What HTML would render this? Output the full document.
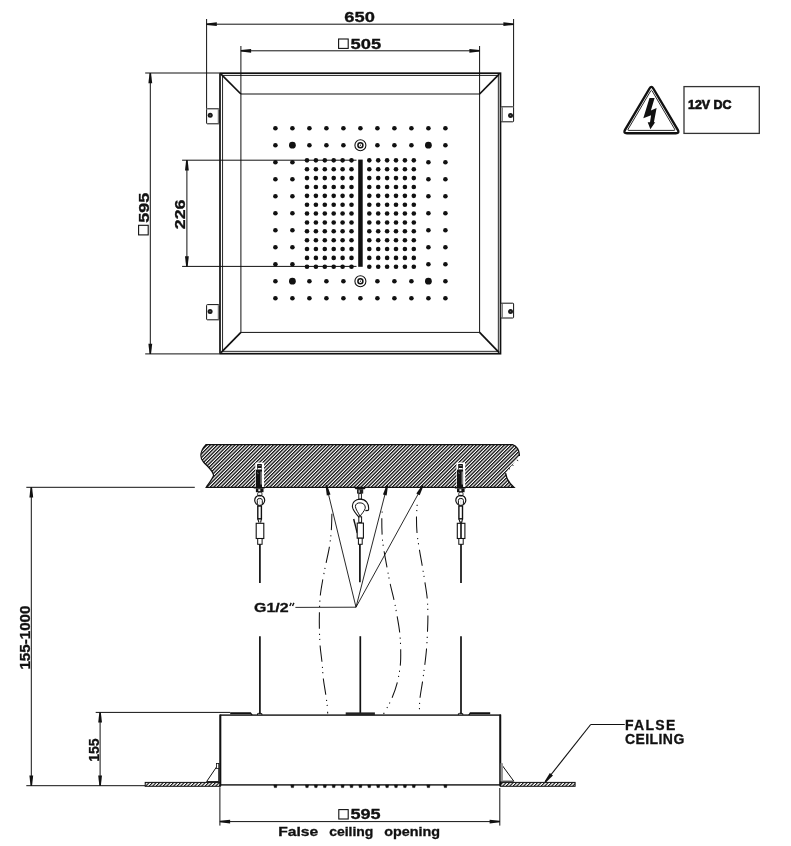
<!DOCTYPE html>
<html><head><meta charset="utf-8"><title>Drawing</title>
<style>
html,body{margin:0;padding:0;background:#fff;}
svg{display:block;will-change:transform;}
text{font-family:"Liberation Sans",sans-serif;fill:#111;stroke:#111;stroke-width:0.3px;}
</style></head>
<body>
<svg width="791" height="846" viewBox="0 0 791 846">
<defs>
<pattern id="hatch" patternUnits="userSpaceOnUse" width="2.475" height="10" patternTransform="rotate(45)">
<rect x="0" y="0" width="1.25" height="10" fill="#000"/></pattern>
<pattern id="hatch2" patternUnits="userSpaceOnUse" width="2.475" height="10" patternTransform="rotate(45)">
<rect x="0" y="0" width="1.05" height="10" fill="#000"/></pattern>
</defs>
<rect x="0" y="0" width="791" height="846" fill="#fff"/>
<line x1="206.6" y1="19" x2="206.6" y2="108.8" stroke="#111" stroke-width="1" />
<line x1="513.6" y1="19" x2="513.6" y2="106.8" stroke="#111" stroke-width="1" />
<line x1="206.6" y1="24.2" x2="513.6" y2="24.2" stroke="#111" stroke-width="1" />
<polygon points="206.6,23.45 216.8,22.3 216.8,26.1 206.6,24.95" fill="#111" stroke="none" stroke-width="1" />
<polygon points="513.6,24.95 503.4,26.1 503.4,22.3 513.6,23.45" fill="#111" stroke="none" stroke-width="1" />
<text x="344.3" y="21.9" font-size="14" font-weight="bold" text-anchor="start" textLength="30.5" lengthAdjust="spacingAndGlyphs" >650</text>
<line x1="240.9" y1="46" x2="240.9" y2="94" stroke="#111" stroke-width="1" />
<line x1="479.6" y1="46" x2="479.6" y2="94" stroke="#111" stroke-width="1" />
<line x1="240.9" y1="50.8" x2="479.6" y2="50.8" stroke="#111" stroke-width="1" />
<polygon points="240.9,50.05 251.1,48.9 251.1,52.7 240.9,51.55" fill="#111" stroke="none" stroke-width="1" />
<polygon points="479.6,51.55 469.4,52.7 469.4,48.9 479.6,50.05" fill="#111" stroke="none" stroke-width="1" />
<rect x="338.6" y="39" width="9.6" height="9.4" rx="0" fill="none" stroke="#111" stroke-width="1.1" />
<text x="350.6" y="48.7" font-size="14" font-weight="bold" text-anchor="start" textLength="30.6" lengthAdjust="spacingAndGlyphs" >505</text>
<line x1="145.2" y1="73" x2="219" y2="73" stroke="#111" stroke-width="1" />
<line x1="145.2" y1="353.9" x2="219" y2="353.9" stroke="#111" stroke-width="1" />
<line x1="150.3" y1="73" x2="150.3" y2="353.9" stroke="#111" stroke-width="1" />
<polygon points="151.05,73 152.2,83.2 148.4,83.2 149.55,73" fill="#111" stroke="none" stroke-width="1" />
<polygon points="149.55,353.9 148.4,343.7 152.2,343.7 151.05,353.9" fill="#111" stroke="none" stroke-width="1" />
<rect x="138.6" y="225.3" width="9.6" height="9.6" rx="0" fill="none" stroke="#111" stroke-width="1.1" />
<text transform="translate(148.6,222.8) rotate(-90)" font-size="14" font-weight="bold" text-anchor="start" textLength="30" lengthAdjust="spacingAndGlyphs" >595</text>
<line x1="182.1" y1="160.2" x2="356.5" y2="160.2" stroke="#111" stroke-width="1" />
<line x1="182.1" y1="266.4" x2="356.5" y2="266.4" stroke="#111" stroke-width="1" />
<line x1="186.9" y1="160.2" x2="186.9" y2="266.4" stroke="#111" stroke-width="1" />
<polygon points="187.65,160.2 188.8,170.4 185,170.4 186.15,160.2" fill="#111" stroke="none" stroke-width="1" />
<polygon points="186.15,266.4 185,256.2 188.8,256.2 187.65,266.4" fill="#111" stroke="none" stroke-width="1" />
<text transform="translate(185.4,229.2) rotate(-90)" font-size="14" font-weight="bold" text-anchor="start" textLength="29.6" lengthAdjust="spacingAndGlyphs" >226</text>
<rect x="220" y="73.2" width="280.5" height="280.5" rx="0" fill="none" stroke="#111" stroke-width="1.7" />
<rect x="222.6" y="75.4" width="275.7" height="275.9" rx="0" fill="none" stroke="#111" stroke-width="0.9" />
<rect x="240.9" y="94" width="238.7" height="238.4" rx="0" fill="none" stroke="#111" stroke-width="1" />
<line x1="221" y1="74.2" x2="240.9" y2="94" stroke="#111" stroke-width="1.7" />
<line x1="499.2" y1="74.2" x2="479.6" y2="94" stroke="#111" stroke-width="1.7" />
<line x1="221" y1="352.7" x2="240.9" y2="332.4" stroke="#111" stroke-width="1.7" />
<line x1="499.2" y1="352.7" x2="479.6" y2="332.4" stroke="#111" stroke-width="1.7" />
<rect x="206.6" y="108.8" width="12.8" height="15" rx="0.8" fill="#fff" stroke="#111" stroke-width="1" />
<line x1="218.3" y1="109.3" x2="218.3" y2="123.3" stroke="#555" stroke-width="0.9" />
<circle cx="210.2" cy="115.3" r="2.5" fill="#1a1a1a" stroke="none" stroke-width="1"/>
<circle cx="210.2" cy="115.3" r="0.7" fill="#666" stroke="none" stroke-width="1"/>
<rect x="500.8" y="106.8" width="12.8" height="15" rx="0.8" fill="#fff" stroke="#111" stroke-width="1" />
<line x1="502.3" y1="107.3" x2="502.3" y2="121.3" stroke="#555" stroke-width="0.9" />
<circle cx="510.5" cy="115.4" r="2.5" fill="#1a1a1a" stroke="none" stroke-width="1"/>
<circle cx="510.5" cy="115.4" r="0.7" fill="#666" stroke="none" stroke-width="1"/>
<rect x="206.6" y="304.6" width="12.8" height="15.2" rx="0.8" fill="#fff" stroke="#111" stroke-width="1" />
<line x1="218.3" y1="305.1" x2="218.3" y2="319.3" stroke="#555" stroke-width="0.9" />
<circle cx="210.1" cy="311.4" r="2.5" fill="#1a1a1a" stroke="none" stroke-width="1"/>
<circle cx="210.1" cy="311.4" r="0.7" fill="#666" stroke="none" stroke-width="1"/>
<rect x="500.8" y="303.2" width="12.8" height="14.8" rx="0.8" fill="#fff" stroke="#111" stroke-width="1" />
<line x1="502.3" y1="303.7" x2="502.3" y2="317.5" stroke="#555" stroke-width="0.9" />
<circle cx="510.5" cy="311.6" r="2.5" fill="#1a1a1a" stroke="none" stroke-width="1"/>
<circle cx="510.5" cy="311.6" r="0.7" fill="#666" stroke="none" stroke-width="1"/>
<circle cx="275.4" cy="128.2" r="2.3" fill="#111" stroke="none" stroke-width="1"/>
<circle cx="292.4" cy="128.2" r="2.3" fill="#111" stroke="none" stroke-width="1"/>
<circle cx="309.4" cy="128.2" r="2.3" fill="#111" stroke="none" stroke-width="1"/>
<circle cx="326.4" cy="128.2" r="2.3" fill="#111" stroke="none" stroke-width="1"/>
<circle cx="343.4" cy="128.2" r="2.3" fill="#111" stroke="none" stroke-width="1"/>
<circle cx="360.4" cy="128.2" r="2.3" fill="#111" stroke="none" stroke-width="1"/>
<circle cx="377.4" cy="128.2" r="2.3" fill="#111" stroke="none" stroke-width="1"/>
<circle cx="394.4" cy="128.2" r="2.3" fill="#111" stroke="none" stroke-width="1"/>
<circle cx="411.4" cy="128.2" r="2.3" fill="#111" stroke="none" stroke-width="1"/>
<circle cx="428.4" cy="128.2" r="2.3" fill="#111" stroke="none" stroke-width="1"/>
<circle cx="445.4" cy="128.2" r="2.3" fill="#111" stroke="none" stroke-width="1"/>
<circle cx="275.4" cy="145.2" r="2.3" fill="#111" stroke="none" stroke-width="1"/>
<circle cx="292.4" cy="145.2" r="3.4" fill="#111" stroke="none" stroke-width="1"/>
<circle cx="309.4" cy="145.2" r="2.3" fill="#111" stroke="none" stroke-width="1"/>
<circle cx="326.4" cy="145.2" r="2.3" fill="#111" stroke="none" stroke-width="1"/>
<circle cx="343.4" cy="145.2" r="2.3" fill="#111" stroke="none" stroke-width="1"/>
<circle cx="360.4" cy="145.2" r="5.5" fill="none" stroke="#111" stroke-width="1.1"/>
<circle cx="360.4" cy="145.2" r="2.5" fill="none" stroke="#111" stroke-width="1.5"/>
<circle cx="360.4" cy="145.2" r="0.6" fill="#111" stroke="none" stroke-width="1"/>
<circle cx="377.4" cy="145.2" r="2.3" fill="#111" stroke="none" stroke-width="1"/>
<circle cx="394.4" cy="145.2" r="2.3" fill="#111" stroke="none" stroke-width="1"/>
<circle cx="411.4" cy="145.2" r="2.3" fill="#111" stroke="none" stroke-width="1"/>
<circle cx="428.4" cy="145.2" r="3.4" fill="#111" stroke="none" stroke-width="1"/>
<circle cx="445.4" cy="145.2" r="2.3" fill="#111" stroke="none" stroke-width="1"/>
<circle cx="275.4" cy="162.2" r="2.3" fill="#111" stroke="none" stroke-width="1"/>
<circle cx="292.4" cy="162.2" r="2.3" fill="#111" stroke="none" stroke-width="1"/>
<circle cx="428.4" cy="162.2" r="2.3" fill="#111" stroke="none" stroke-width="1"/>
<circle cx="445.4" cy="162.2" r="2.3" fill="#111" stroke="none" stroke-width="1"/>
<circle cx="275.4" cy="179.2" r="2.3" fill="#111" stroke="none" stroke-width="1"/>
<circle cx="292.4" cy="179.2" r="2.3" fill="#111" stroke="none" stroke-width="1"/>
<circle cx="428.4" cy="179.2" r="2.3" fill="#111" stroke="none" stroke-width="1"/>
<circle cx="445.4" cy="179.2" r="2.3" fill="#111" stroke="none" stroke-width="1"/>
<circle cx="275.4" cy="196.2" r="2.3" fill="#111" stroke="none" stroke-width="1"/>
<circle cx="292.4" cy="196.2" r="2.3" fill="#111" stroke="none" stroke-width="1"/>
<circle cx="428.4" cy="196.2" r="2.3" fill="#111" stroke="none" stroke-width="1"/>
<circle cx="445.4" cy="196.2" r="2.3" fill="#111" stroke="none" stroke-width="1"/>
<circle cx="275.4" cy="213.2" r="2.3" fill="#111" stroke="none" stroke-width="1"/>
<circle cx="292.4" cy="213.2" r="2.3" fill="#111" stroke="none" stroke-width="1"/>
<circle cx="428.4" cy="213.2" r="2.3" fill="#111" stroke="none" stroke-width="1"/>
<circle cx="445.4" cy="213.2" r="2.3" fill="#111" stroke="none" stroke-width="1"/>
<circle cx="275.4" cy="230.2" r="2.3" fill="#111" stroke="none" stroke-width="1"/>
<circle cx="292.4" cy="230.2" r="2.3" fill="#111" stroke="none" stroke-width="1"/>
<circle cx="428.4" cy="230.2" r="2.3" fill="#111" stroke="none" stroke-width="1"/>
<circle cx="445.4" cy="230.2" r="2.3" fill="#111" stroke="none" stroke-width="1"/>
<circle cx="275.4" cy="247.2" r="2.3" fill="#111" stroke="none" stroke-width="1"/>
<circle cx="292.4" cy="247.2" r="2.3" fill="#111" stroke="none" stroke-width="1"/>
<circle cx="428.4" cy="247.2" r="2.3" fill="#111" stroke="none" stroke-width="1"/>
<circle cx="445.4" cy="247.2" r="2.3" fill="#111" stroke="none" stroke-width="1"/>
<circle cx="275.4" cy="264.2" r="2.3" fill="#111" stroke="none" stroke-width="1"/>
<circle cx="292.4" cy="264.2" r="2.3" fill="#111" stroke="none" stroke-width="1"/>
<circle cx="428.4" cy="264.2" r="2.3" fill="#111" stroke="none" stroke-width="1"/>
<circle cx="445.4" cy="264.2" r="2.3" fill="#111" stroke="none" stroke-width="1"/>
<circle cx="275.4" cy="281.2" r="2.3" fill="#111" stroke="none" stroke-width="1"/>
<circle cx="292.4" cy="281.2" r="3.4" fill="#111" stroke="none" stroke-width="1"/>
<circle cx="309.4" cy="281.2" r="2.3" fill="#111" stroke="none" stroke-width="1"/>
<circle cx="326.4" cy="281.2" r="2.3" fill="#111" stroke="none" stroke-width="1"/>
<circle cx="343.4" cy="281.2" r="2.3" fill="#111" stroke="none" stroke-width="1"/>
<circle cx="360.4" cy="281.2" r="5.5" fill="none" stroke="#111" stroke-width="1.1"/>
<circle cx="360.4" cy="281.2" r="2.5" fill="none" stroke="#111" stroke-width="1.5"/>
<circle cx="360.4" cy="281.2" r="0.6" fill="#111" stroke="none" stroke-width="1"/>
<circle cx="377.4" cy="281.2" r="2.3" fill="#111" stroke="none" stroke-width="1"/>
<circle cx="394.4" cy="281.2" r="2.3" fill="#111" stroke="none" stroke-width="1"/>
<circle cx="411.4" cy="281.2" r="2.3" fill="#111" stroke="none" stroke-width="1"/>
<circle cx="428.4" cy="281.2" r="3.4" fill="#111" stroke="none" stroke-width="1"/>
<circle cx="445.4" cy="281.2" r="2.3" fill="#111" stroke="none" stroke-width="1"/>
<circle cx="275.4" cy="298.2" r="2.3" fill="#111" stroke="none" stroke-width="1"/>
<circle cx="292.4" cy="298.2" r="2.3" fill="#111" stroke="none" stroke-width="1"/>
<circle cx="309.4" cy="298.2" r="2.3" fill="#111" stroke="none" stroke-width="1"/>
<circle cx="326.4" cy="298.2" r="2.3" fill="#111" stroke="none" stroke-width="1"/>
<circle cx="343.4" cy="298.2" r="2.3" fill="#111" stroke="none" stroke-width="1"/>
<circle cx="360.4" cy="298.2" r="2.3" fill="#111" stroke="none" stroke-width="1"/>
<circle cx="377.4" cy="298.2" r="2.3" fill="#111" stroke="none" stroke-width="1"/>
<circle cx="394.4" cy="298.2" r="2.3" fill="#111" stroke="none" stroke-width="1"/>
<circle cx="411.4" cy="298.2" r="2.3" fill="#111" stroke="none" stroke-width="1"/>
<circle cx="428.4" cy="298.2" r="2.3" fill="#111" stroke="none" stroke-width="1"/>
<circle cx="445.4" cy="298.2" r="2.3" fill="#111" stroke="none" stroke-width="1"/>
<circle cx="307" cy="160.35" r="2.3" fill="#111" stroke="none" stroke-width="1"/>
<circle cx="315.9" cy="160.35" r="2.3" fill="#111" stroke="none" stroke-width="1"/>
<circle cx="324.8" cy="160.35" r="2.3" fill="#111" stroke="none" stroke-width="1"/>
<circle cx="333.7" cy="160.35" r="2.3" fill="#111" stroke="none" stroke-width="1"/>
<circle cx="342.6" cy="160.35" r="2.3" fill="#111" stroke="none" stroke-width="1"/>
<circle cx="351.5" cy="160.35" r="2.3" fill="#111" stroke="none" stroke-width="1"/>
<circle cx="369.3" cy="160.35" r="2.3" fill="#111" stroke="none" stroke-width="1"/>
<circle cx="378.2" cy="160.35" r="2.3" fill="#111" stroke="none" stroke-width="1"/>
<circle cx="387.1" cy="160.35" r="2.3" fill="#111" stroke="none" stroke-width="1"/>
<circle cx="396" cy="160.35" r="2.3" fill="#111" stroke="none" stroke-width="1"/>
<circle cx="404.9" cy="160.35" r="2.3" fill="#111" stroke="none" stroke-width="1"/>
<circle cx="413.8" cy="160.35" r="2.3" fill="#111" stroke="none" stroke-width="1"/>
<circle cx="307" cy="169.22" r="2.3" fill="#111" stroke="none" stroke-width="1"/>
<circle cx="315.9" cy="169.22" r="2.3" fill="#111" stroke="none" stroke-width="1"/>
<circle cx="324.8" cy="169.22" r="2.3" fill="#111" stroke="none" stroke-width="1"/>
<circle cx="333.7" cy="169.22" r="2.3" fill="#111" stroke="none" stroke-width="1"/>
<circle cx="342.6" cy="169.22" r="2.3" fill="#111" stroke="none" stroke-width="1"/>
<circle cx="351.5" cy="169.22" r="2.3" fill="#111" stroke="none" stroke-width="1"/>
<circle cx="369.3" cy="169.22" r="2.3" fill="#111" stroke="none" stroke-width="1"/>
<circle cx="378.2" cy="169.22" r="2.3" fill="#111" stroke="none" stroke-width="1"/>
<circle cx="387.1" cy="169.22" r="2.3" fill="#111" stroke="none" stroke-width="1"/>
<circle cx="396" cy="169.22" r="2.3" fill="#111" stroke="none" stroke-width="1"/>
<circle cx="404.9" cy="169.22" r="2.3" fill="#111" stroke="none" stroke-width="1"/>
<circle cx="413.8" cy="169.22" r="2.3" fill="#111" stroke="none" stroke-width="1"/>
<circle cx="307" cy="178.09" r="2.3" fill="#111" stroke="none" stroke-width="1"/>
<circle cx="315.9" cy="178.09" r="2.3" fill="#111" stroke="none" stroke-width="1"/>
<circle cx="324.8" cy="178.09" r="2.3" fill="#111" stroke="none" stroke-width="1"/>
<circle cx="333.7" cy="178.09" r="2.3" fill="#111" stroke="none" stroke-width="1"/>
<circle cx="342.6" cy="178.09" r="2.3" fill="#111" stroke="none" stroke-width="1"/>
<circle cx="351.5" cy="178.09" r="2.3" fill="#111" stroke="none" stroke-width="1"/>
<circle cx="369.3" cy="178.09" r="2.3" fill="#111" stroke="none" stroke-width="1"/>
<circle cx="378.2" cy="178.09" r="2.3" fill="#111" stroke="none" stroke-width="1"/>
<circle cx="387.1" cy="178.09" r="2.3" fill="#111" stroke="none" stroke-width="1"/>
<circle cx="396" cy="178.09" r="2.3" fill="#111" stroke="none" stroke-width="1"/>
<circle cx="404.9" cy="178.09" r="2.3" fill="#111" stroke="none" stroke-width="1"/>
<circle cx="413.8" cy="178.09" r="2.3" fill="#111" stroke="none" stroke-width="1"/>
<circle cx="307" cy="186.96" r="2.3" fill="#111" stroke="none" stroke-width="1"/>
<circle cx="315.9" cy="186.96" r="2.3" fill="#111" stroke="none" stroke-width="1"/>
<circle cx="324.8" cy="186.96" r="2.3" fill="#111" stroke="none" stroke-width="1"/>
<circle cx="333.7" cy="186.96" r="2.3" fill="#111" stroke="none" stroke-width="1"/>
<circle cx="342.6" cy="186.96" r="2.3" fill="#111" stroke="none" stroke-width="1"/>
<circle cx="351.5" cy="186.96" r="2.3" fill="#111" stroke="none" stroke-width="1"/>
<circle cx="369.3" cy="186.96" r="2.3" fill="#111" stroke="none" stroke-width="1"/>
<circle cx="378.2" cy="186.96" r="2.3" fill="#111" stroke="none" stroke-width="1"/>
<circle cx="387.1" cy="186.96" r="2.3" fill="#111" stroke="none" stroke-width="1"/>
<circle cx="396" cy="186.96" r="2.3" fill="#111" stroke="none" stroke-width="1"/>
<circle cx="404.9" cy="186.96" r="2.3" fill="#111" stroke="none" stroke-width="1"/>
<circle cx="413.8" cy="186.96" r="2.3" fill="#111" stroke="none" stroke-width="1"/>
<circle cx="307" cy="195.83" r="2.3" fill="#111" stroke="none" stroke-width="1"/>
<circle cx="315.9" cy="195.83" r="2.3" fill="#111" stroke="none" stroke-width="1"/>
<circle cx="324.8" cy="195.83" r="2.3" fill="#111" stroke="none" stroke-width="1"/>
<circle cx="333.7" cy="195.83" r="2.3" fill="#111" stroke="none" stroke-width="1"/>
<circle cx="342.6" cy="195.83" r="2.3" fill="#111" stroke="none" stroke-width="1"/>
<circle cx="351.5" cy="195.83" r="2.3" fill="#111" stroke="none" stroke-width="1"/>
<circle cx="369.3" cy="195.83" r="2.3" fill="#111" stroke="none" stroke-width="1"/>
<circle cx="378.2" cy="195.83" r="2.3" fill="#111" stroke="none" stroke-width="1"/>
<circle cx="387.1" cy="195.83" r="2.3" fill="#111" stroke="none" stroke-width="1"/>
<circle cx="396" cy="195.83" r="2.3" fill="#111" stroke="none" stroke-width="1"/>
<circle cx="404.9" cy="195.83" r="2.3" fill="#111" stroke="none" stroke-width="1"/>
<circle cx="413.8" cy="195.83" r="2.3" fill="#111" stroke="none" stroke-width="1"/>
<circle cx="307" cy="204.7" r="2.3" fill="#111" stroke="none" stroke-width="1"/>
<circle cx="315.9" cy="204.7" r="2.3" fill="#111" stroke="none" stroke-width="1"/>
<circle cx="324.8" cy="204.7" r="2.3" fill="#111" stroke="none" stroke-width="1"/>
<circle cx="333.7" cy="204.7" r="2.3" fill="#111" stroke="none" stroke-width="1"/>
<circle cx="342.6" cy="204.7" r="2.3" fill="#111" stroke="none" stroke-width="1"/>
<circle cx="351.5" cy="204.7" r="2.3" fill="#111" stroke="none" stroke-width="1"/>
<circle cx="369.3" cy="204.7" r="2.3" fill="#111" stroke="none" stroke-width="1"/>
<circle cx="378.2" cy="204.7" r="2.3" fill="#111" stroke="none" stroke-width="1"/>
<circle cx="387.1" cy="204.7" r="2.3" fill="#111" stroke="none" stroke-width="1"/>
<circle cx="396" cy="204.7" r="2.3" fill="#111" stroke="none" stroke-width="1"/>
<circle cx="404.9" cy="204.7" r="2.3" fill="#111" stroke="none" stroke-width="1"/>
<circle cx="413.8" cy="204.7" r="2.3" fill="#111" stroke="none" stroke-width="1"/>
<circle cx="307" cy="213.57" r="2.3" fill="#111" stroke="none" stroke-width="1"/>
<circle cx="315.9" cy="213.57" r="2.3" fill="#111" stroke="none" stroke-width="1"/>
<circle cx="324.8" cy="213.57" r="2.3" fill="#111" stroke="none" stroke-width="1"/>
<circle cx="333.7" cy="213.57" r="2.3" fill="#111" stroke="none" stroke-width="1"/>
<circle cx="342.6" cy="213.57" r="2.3" fill="#111" stroke="none" stroke-width="1"/>
<circle cx="351.5" cy="213.57" r="2.3" fill="#111" stroke="none" stroke-width="1"/>
<circle cx="369.3" cy="213.57" r="2.3" fill="#111" stroke="none" stroke-width="1"/>
<circle cx="378.2" cy="213.57" r="2.3" fill="#111" stroke="none" stroke-width="1"/>
<circle cx="387.1" cy="213.57" r="2.3" fill="#111" stroke="none" stroke-width="1"/>
<circle cx="396" cy="213.57" r="2.3" fill="#111" stroke="none" stroke-width="1"/>
<circle cx="404.9" cy="213.57" r="2.3" fill="#111" stroke="none" stroke-width="1"/>
<circle cx="413.8" cy="213.57" r="2.3" fill="#111" stroke="none" stroke-width="1"/>
<circle cx="307" cy="222.44" r="2.3" fill="#111" stroke="none" stroke-width="1"/>
<circle cx="315.9" cy="222.44" r="2.3" fill="#111" stroke="none" stroke-width="1"/>
<circle cx="324.8" cy="222.44" r="2.3" fill="#111" stroke="none" stroke-width="1"/>
<circle cx="333.7" cy="222.44" r="2.3" fill="#111" stroke="none" stroke-width="1"/>
<circle cx="342.6" cy="222.44" r="2.3" fill="#111" stroke="none" stroke-width="1"/>
<circle cx="351.5" cy="222.44" r="2.3" fill="#111" stroke="none" stroke-width="1"/>
<circle cx="369.3" cy="222.44" r="2.3" fill="#111" stroke="none" stroke-width="1"/>
<circle cx="378.2" cy="222.44" r="2.3" fill="#111" stroke="none" stroke-width="1"/>
<circle cx="387.1" cy="222.44" r="2.3" fill="#111" stroke="none" stroke-width="1"/>
<circle cx="396" cy="222.44" r="2.3" fill="#111" stroke="none" stroke-width="1"/>
<circle cx="404.9" cy="222.44" r="2.3" fill="#111" stroke="none" stroke-width="1"/>
<circle cx="413.8" cy="222.44" r="2.3" fill="#111" stroke="none" stroke-width="1"/>
<circle cx="307" cy="231.31" r="2.3" fill="#111" stroke="none" stroke-width="1"/>
<circle cx="315.9" cy="231.31" r="2.3" fill="#111" stroke="none" stroke-width="1"/>
<circle cx="324.8" cy="231.31" r="2.3" fill="#111" stroke="none" stroke-width="1"/>
<circle cx="333.7" cy="231.31" r="2.3" fill="#111" stroke="none" stroke-width="1"/>
<circle cx="342.6" cy="231.31" r="2.3" fill="#111" stroke="none" stroke-width="1"/>
<circle cx="351.5" cy="231.31" r="2.3" fill="#111" stroke="none" stroke-width="1"/>
<circle cx="369.3" cy="231.31" r="2.3" fill="#111" stroke="none" stroke-width="1"/>
<circle cx="378.2" cy="231.31" r="2.3" fill="#111" stroke="none" stroke-width="1"/>
<circle cx="387.1" cy="231.31" r="2.3" fill="#111" stroke="none" stroke-width="1"/>
<circle cx="396" cy="231.31" r="2.3" fill="#111" stroke="none" stroke-width="1"/>
<circle cx="404.9" cy="231.31" r="2.3" fill="#111" stroke="none" stroke-width="1"/>
<circle cx="413.8" cy="231.31" r="2.3" fill="#111" stroke="none" stroke-width="1"/>
<circle cx="307" cy="240.18" r="2.3" fill="#111" stroke="none" stroke-width="1"/>
<circle cx="315.9" cy="240.18" r="2.3" fill="#111" stroke="none" stroke-width="1"/>
<circle cx="324.8" cy="240.18" r="2.3" fill="#111" stroke="none" stroke-width="1"/>
<circle cx="333.7" cy="240.18" r="2.3" fill="#111" stroke="none" stroke-width="1"/>
<circle cx="342.6" cy="240.18" r="2.3" fill="#111" stroke="none" stroke-width="1"/>
<circle cx="351.5" cy="240.18" r="2.3" fill="#111" stroke="none" stroke-width="1"/>
<circle cx="369.3" cy="240.18" r="2.3" fill="#111" stroke="none" stroke-width="1"/>
<circle cx="378.2" cy="240.18" r="2.3" fill="#111" stroke="none" stroke-width="1"/>
<circle cx="387.1" cy="240.18" r="2.3" fill="#111" stroke="none" stroke-width="1"/>
<circle cx="396" cy="240.18" r="2.3" fill="#111" stroke="none" stroke-width="1"/>
<circle cx="404.9" cy="240.18" r="2.3" fill="#111" stroke="none" stroke-width="1"/>
<circle cx="413.8" cy="240.18" r="2.3" fill="#111" stroke="none" stroke-width="1"/>
<circle cx="307" cy="249.05" r="2.3" fill="#111" stroke="none" stroke-width="1"/>
<circle cx="315.9" cy="249.05" r="2.3" fill="#111" stroke="none" stroke-width="1"/>
<circle cx="324.8" cy="249.05" r="2.3" fill="#111" stroke="none" stroke-width="1"/>
<circle cx="333.7" cy="249.05" r="2.3" fill="#111" stroke="none" stroke-width="1"/>
<circle cx="342.6" cy="249.05" r="2.3" fill="#111" stroke="none" stroke-width="1"/>
<circle cx="351.5" cy="249.05" r="2.3" fill="#111" stroke="none" stroke-width="1"/>
<circle cx="369.3" cy="249.05" r="2.3" fill="#111" stroke="none" stroke-width="1"/>
<circle cx="378.2" cy="249.05" r="2.3" fill="#111" stroke="none" stroke-width="1"/>
<circle cx="387.1" cy="249.05" r="2.3" fill="#111" stroke="none" stroke-width="1"/>
<circle cx="396" cy="249.05" r="2.3" fill="#111" stroke="none" stroke-width="1"/>
<circle cx="404.9" cy="249.05" r="2.3" fill="#111" stroke="none" stroke-width="1"/>
<circle cx="413.8" cy="249.05" r="2.3" fill="#111" stroke="none" stroke-width="1"/>
<circle cx="307" cy="257.92" r="2.3" fill="#111" stroke="none" stroke-width="1"/>
<circle cx="315.9" cy="257.92" r="2.3" fill="#111" stroke="none" stroke-width="1"/>
<circle cx="324.8" cy="257.92" r="2.3" fill="#111" stroke="none" stroke-width="1"/>
<circle cx="333.7" cy="257.92" r="2.3" fill="#111" stroke="none" stroke-width="1"/>
<circle cx="342.6" cy="257.92" r="2.3" fill="#111" stroke="none" stroke-width="1"/>
<circle cx="351.5" cy="257.92" r="2.3" fill="#111" stroke="none" stroke-width="1"/>
<circle cx="369.3" cy="257.92" r="2.3" fill="#111" stroke="none" stroke-width="1"/>
<circle cx="378.2" cy="257.92" r="2.3" fill="#111" stroke="none" stroke-width="1"/>
<circle cx="387.1" cy="257.92" r="2.3" fill="#111" stroke="none" stroke-width="1"/>
<circle cx="396" cy="257.92" r="2.3" fill="#111" stroke="none" stroke-width="1"/>
<circle cx="404.9" cy="257.92" r="2.3" fill="#111" stroke="none" stroke-width="1"/>
<circle cx="413.8" cy="257.92" r="2.3" fill="#111" stroke="none" stroke-width="1"/>
<circle cx="307" cy="266.79" r="2.3" fill="#111" stroke="none" stroke-width="1"/>
<circle cx="315.9" cy="266.79" r="2.3" fill="#111" stroke="none" stroke-width="1"/>
<circle cx="324.8" cy="266.79" r="2.3" fill="#111" stroke="none" stroke-width="1"/>
<circle cx="333.7" cy="266.79" r="2.3" fill="#111" stroke="none" stroke-width="1"/>
<circle cx="342.6" cy="266.79" r="2.3" fill="#111" stroke="none" stroke-width="1"/>
<circle cx="351.5" cy="266.79" r="2.3" fill="#111" stroke="none" stroke-width="1"/>
<circle cx="369.3" cy="266.79" r="2.3" fill="#111" stroke="none" stroke-width="1"/>
<circle cx="378.2" cy="266.79" r="2.3" fill="#111" stroke="none" stroke-width="1"/>
<circle cx="387.1" cy="266.79" r="2.3" fill="#111" stroke="none" stroke-width="1"/>
<circle cx="396" cy="266.79" r="2.3" fill="#111" stroke="none" stroke-width="1"/>
<circle cx="404.9" cy="266.79" r="2.3" fill="#111" stroke="none" stroke-width="1"/>
<circle cx="413.8" cy="266.79" r="2.3" fill="#111" stroke="none" stroke-width="1"/>
<rect x="358.2" y="159.6" width="4.5" height="107.2" rx="0" fill="#111" stroke="none" stroke-width="1" />
<path d="M653.29,88.5 Q651.4,85.3 649.51,88.5 L625.02,129.88 Q623.06,133.2 626.92,133.2 L675.88,133.2 Q679.74,133.2 677.78,129.88 Z" fill="none" stroke="#111" stroke-width="2.4" />
<path d="M652.09,90.87 Q651.4,89.7 650.71,90.87 L628.11,129.19 Q627.4,130.4 628.8,130.4 L674,130.4 Q675.4,130.4 674.69,129.19 Z" fill="none" stroke="#111" stroke-width="0.9" />
<polygon points="649.5,98.1 654.6,98.1 650.9,110.6 656.6,108.1 653.9,122.3 655.2,122.3 650.4,129.3 647.7,122.3 650,122.3 651.1,115.3 643.3,118.3" fill="#111" stroke="none" stroke-width="1" />
<rect x="684" y="86.6" width="75.3" height="46.8" rx="0" fill="none" stroke="#333" stroke-width="1.3" />
<text x="688" y="108.8" font-size="13.2" font-weight="bold" text-anchor="start" textLength="43.6" lengthAdjust="spacingAndGlyphs" style="stroke-width:0.7px">12V DC</text>
<path d="M206,444.7 L512.5,444.7 C516.5,445.5 519.8,450.5 519.3,456 L505.6,473.1 C506.2,477.5 509.5,483.5 513.9,487.3 L206.3,487.3 C208.5,484 211.5,480 213.6,475.7 C213.3,471 209,468 203.5,462 C199.5,457.5 200,451 206,444.7 Z" fill="url(#hatch)" stroke="none" stroke-width="1" />
<path d="M519.3,456 C519.8,450.5 516.5,445.5 512.5,444.7 L206,444.7 C200,451 199.5,457.5 203.5,462 C209,468 213.3,471 213.6,475.7 C211.5,480 208.5,484 206.3,487.3 L513.9,487.3 C509.5,483.5 506.2,477.5 505.6,473.1" fill="none" stroke="#111" stroke-width="1.3" />
<line x1="516.8" y1="460" x2="518.2" y2="460.7" stroke="#111" stroke-width="0.9" />
<line x1="512.1" y1="464.8" x2="513.5" y2="465.5" stroke="#111" stroke-width="0.9" />
<line x1="508.6" y1="468.4" x2="510" y2="469.1" stroke="#111" stroke-width="0.9" />
<line x1="26.3" y1="487.3" x2="194.8" y2="487.3" stroke="#111" stroke-width="1" />
<line x1="31.3" y1="487.3" x2="31.3" y2="785.7" stroke="#111" stroke-width="1" />
<polygon points="32.05,487.3 33.2,497.5 29.4,497.5 30.55,487.3" fill="#111" stroke="none" stroke-width="1" />
<polygon points="30.55,785.7 29.4,775.5 33.2,775.5 32.05,785.7" fill="#111" stroke="none" stroke-width="1" />
<line x1="26.3" y1="785.7" x2="145.2" y2="785.7" stroke="#111" stroke-width="1" />
<text transform="translate(29.6,669.6) rotate(-90)" font-size="14.2" font-weight="bold" text-anchor="start" textLength="64" lengthAdjust="spacingAndGlyphs" >155-1000</text>
<line x1="95.7" y1="712.4" x2="230.2" y2="712.4" stroke="#111" stroke-width="1" />
<line x1="100.1" y1="712.4" x2="100.1" y2="785.7" stroke="#111" stroke-width="1" />
<polygon points="100.85,712.4 102,722.6 98.2,722.6 99.35,712.4" fill="#111" stroke="none" stroke-width="1" />
<polygon points="99.35,785.7 98.2,775.5 102,775.5 100.85,785.7" fill="#111" stroke="none" stroke-width="1" />
<text transform="translate(98.7,761.7) rotate(-90)" font-size="14.2" font-weight="bold" text-anchor="start" textLength="23.3" lengthAdjust="spacingAndGlyphs" >155</text>
<rect x="255.3" y="462.6" width="8.8" height="24.6" rx="1.2" fill="#fff" stroke="none" stroke-width="1" />
<rect x="257.1" y="464" width="4.7" height="5.8" rx="0.5" fill="#111" stroke="none" stroke-width="1" />
<rect x="258.3" y="465.2" width="2.4" height="0.9" rx="0" fill="#999" stroke="none" stroke-width="1" />
<rect x="257.7" y="468" width="3.8" height="1.5" rx="0" fill="#fff" stroke="none" stroke-width="1" />
<rect x="255.9" y="469.7" width="6.1" height="17.5" rx="0" fill="#111" stroke="none" stroke-width="1" />
<line x1="261.1" y1="471.5" x2="261.1" y2="484.5" stroke="#eee" stroke-width="0.8" />
<line x1="257.5" y1="472.5" x2="258.3" y2="474" stroke="#bbb" stroke-width="0.6" />
<rect x="253.7" y="487" width="11" height="1.5" rx="0" fill="#111" stroke="none" stroke-width="1" />
<rect x="255.9" y="488.4" width="7.6" height="3.8" rx="0" fill="#111" stroke="none" stroke-width="1" />
<rect x="258.3" y="489.2" width="2" height="2" rx="0" fill="#eee" stroke="none" stroke-width="1" />
<rect x="257.7" y="492.2" width="4.2" height="3.8" rx="1.2" fill="#fff" stroke="#111" stroke-width="0.9" />
<circle cx="259.7" cy="500.3" r="5" fill="none" stroke="#111" stroke-width="1.2"/>
<path d="M257.3,504 L257.3,500.3 Q257.3,498.4 259.7,498.4 Q262.3,498.4 262.3,500.3 L262.3,504" fill="none" stroke="#111" stroke-width="1" />
<line x1="259.7" y1="499" x2="259.7" y2="505.5" stroke="#ddd" stroke-width="1" />
<rect x="257.8" y="506" width="3.6" height="12.8" rx="0" fill="#fff" stroke="#111" stroke-width="1.4" />
<path d="M257.8,518.8 L259,522.6 M261.4,518.8 L260.6,522.6" fill="none" stroke="#111" stroke-width="1.1" />
<rect x="256.2" y="523.3" width="7.6" height="15.2" rx="0" fill="#fff" stroke="#111" stroke-width="1.1" />
<rect x="257.7" y="538.5" width="4.4" height="5.8" rx="0" fill="#fff" stroke="#111" stroke-width="1" />
<line x1="259.9" y1="544.3" x2="259.9" y2="583.1" stroke="#111" stroke-width="1.7" />
<rect x="456.4" y="462.6" width="8.8" height="24.6" rx="1.2" fill="#fff" stroke="none" stroke-width="1" />
<rect x="458.2" y="464" width="4.7" height="5.8" rx="0.5" fill="#111" stroke="none" stroke-width="1" />
<rect x="459.4" y="465.2" width="2.4" height="0.9" rx="0" fill="#999" stroke="none" stroke-width="1" />
<rect x="458.8" y="468" width="3.8" height="1.5" rx="0" fill="#fff" stroke="none" stroke-width="1" />
<rect x="457" y="469.7" width="6.1" height="17.5" rx="0" fill="#111" stroke="none" stroke-width="1" />
<line x1="462.2" y1="471.5" x2="462.2" y2="484.5" stroke="#eee" stroke-width="0.8" />
<line x1="458.6" y1="472.5" x2="459.4" y2="474" stroke="#bbb" stroke-width="0.6" />
<rect x="454.8" y="487" width="11" height="1.5" rx="0" fill="#111" stroke="none" stroke-width="1" />
<rect x="457" y="488.4" width="7.6" height="3.8" rx="0" fill="#111" stroke="none" stroke-width="1" />
<rect x="459.4" y="489.2" width="2" height="2" rx="0" fill="#eee" stroke="none" stroke-width="1" />
<rect x="458.8" y="492.2" width="4.2" height="3.8" rx="1.2" fill="#fff" stroke="#111" stroke-width="0.9" />
<circle cx="460.8" cy="500.3" r="5" fill="none" stroke="#111" stroke-width="1.2"/>
<path d="M458.4,504 L458.4,500.3 Q458.4,498.4 460.8,498.4 Q463.4,498.4 463.4,500.3 L463.4,504" fill="none" stroke="#111" stroke-width="1" />
<line x1="460.8" y1="499" x2="460.8" y2="505.5" stroke="#ddd" stroke-width="1" />
<rect x="458.9" y="506" width="3.6" height="12.8" rx="0" fill="#fff" stroke="#111" stroke-width="1.4" />
<path d="M458.9,518.8 L460.1,522.6 M462.5,518.8 L461.7,522.6" fill="none" stroke="#111" stroke-width="1.1" />
<rect x="457.3" y="523.3" width="7.6" height="15.2" rx="0" fill="#fff" stroke="#111" stroke-width="1.1" />
<rect x="458.8" y="538.5" width="4.4" height="5.8" rx="0" fill="#fff" stroke="#111" stroke-width="1" />
<line x1="461" y1="544.3" x2="461" y2="583.1" stroke="#111" stroke-width="1.7" />
<line x1="461" y1="521.5" x2="461" y2="538" stroke="#111" stroke-width="1.6" />
<polygon points="354.2,487.4 366,487.4 364.6,489.2 355.6,489.2" fill="#111" stroke="none" stroke-width="1" />
<rect x="357" y="489.2" width="6.2" height="4.4" rx="0" fill="#222" stroke="none" stroke-width="1" />
<rect x="358.6" y="490.2" width="1.2" height="2.4" rx="0" fill="#ccc" stroke="none" stroke-width="1" />
<rect x="358.8" y="493.6" width="2.6" height="5.6" rx="0" fill="#fff" stroke="#111" stroke-width="0.9" />
<path d="M368.5,510.3 C369.5,503.5 365.5,499.1 360.2,499.1 C355,499.1 352.2,503 352.4,506.5 C352.6,510 356.5,514.5 359.3,517.5" fill="none" stroke="#111" stroke-width="1.1" />
<path d="M360.1,502.9 C357.5,502.6 355.2,504.2 355.4,506.6 C355.7,509.5 358.5,513 360.1,516.3 C361.8,513.5 364.5,511 365.2,508.4 C365.6,504.5 362.8,502.9 360.1,502.9 Z" fill="none" stroke="#111" stroke-width="1" />
<line x1="368.5" y1="510.3" x2="365.4" y2="510.7" stroke="#111" stroke-width="1.2" />
<rect x="358.8" y="516.8" width="2.8" height="5.6" rx="0" fill="#fff" stroke="#111" stroke-width="1" />
<polygon points="353,519.2 354.4,518.8 357.8,532.8 356.6,533.2" fill="#111" stroke="none" stroke-width="1" />
<rect x="357.2" y="523.1" width="6.2" height="15.1" rx="0" fill="#fff" stroke="#111" stroke-width="1.1" />
<rect x="358.4" y="538.2" width="3.8" height="6.1" rx="0" fill="#fff" stroke="#111" stroke-width="1" />
<line x1="359.9" y1="544.3" x2="359.9" y2="582.3" stroke="#111" stroke-width="1.7" />
<line x1="356" y1="607.2" x2="326.3" y2="485.3" stroke="#111" stroke-width="0.9" />
<polygon points="327.03,485.12 330.51,494.57 326.82,495.47 325.57,485.48" fill="#111" stroke="none" stroke-width="1" />
<line x1="356" y1="607.2" x2="387.3" y2="485.3" stroke="#111" stroke-width="0.9" />
<polygon points="388.03,485.49 386.65,495.46 382.97,494.51 386.57,485.11" fill="#111" stroke="none" stroke-width="1" />
<line x1="356" y1="607.2" x2="422.8" y2="485.6" stroke="#111" stroke-width="0.9" />
<polygon points="423.46,485.96 419.65,495.28 416.32,493.45 422.14,485.24" fill="#111" stroke="none" stroke-width="1" />
<line x1="295.4" y1="607.4" x2="356" y2="607.2" stroke="#111" stroke-width="0.9" />
<text x="254" y="612" font-size="13.4" font-weight="bold" text-anchor="start" textLength="34.6" lengthAdjust="spacingAndGlyphs" >G1/2</text>
<line x1="291.2" y1="602.9" x2="289.8" y2="606" stroke="#111" stroke-width="1.4" />
<line x1="293.9" y1="602.9" x2="292.5" y2="606" stroke="#111" stroke-width="1.4" />
<path d="M331.9,513.7 C331.8,516.47 331.72,524.78 331.3,530.3 C330.88,535.82 330.27,541.37 329.4,546.8 C328.53,552.23 327.2,557.45 326.1,562.9 C325,568.35 323.77,574.07 322.8,579.5 C321.83,584.93 320.87,589.92 320.3,595.5 C319.73,601.08 319.55,607.4 319.4,613 C319.25,618.6 319.28,623.65 319.4,629.1 C319.52,634.55 319.67,640.18 320.1,645.7 C320.53,651.22 321.45,656.62 322,662.2 C322.55,667.78 322.77,673.77 323.4,679.2 C324.03,684.63 325.17,690.38 325.8,694.8 C326.43,699.22 326.88,702.58 327.2,705.7 C327.52,708.82 327.62,712.2 327.7,713.5" fill="none" stroke="#111" stroke-width="1.05" stroke-dasharray="16.4,5.1,1.2,3.9,1.2,5.4" stroke-dashoffset="0"/>
<path d="M382.2,511 C382.13,512.2 381.82,514.32 381.8,518.2 C381.78,522.08 381.87,529.72 382.1,534.3 C382.33,538.88 382.38,540.18 383.2,545.7 C384.02,551.22 385.83,561.02 387,567.4 C388.17,573.78 389.03,578.6 390.2,584 C391.37,589.4 392.83,594.37 394,599.8 C395.17,605.23 396.25,611.15 397.2,616.6 C398.15,622.05 399.12,626.98 399.7,632.5 C400.28,638.02 400.6,644.23 400.7,649.7 C400.8,655.17 400.88,659.78 400.3,665.3 C399.72,670.82 398.58,677.35 397.2,682.8 C395.82,688.25 393.73,693.77 392,698 C390.27,702.23 388.22,705.53 386.8,708.2 C385.38,710.87 384.05,713.03 383.5,714" fill="none" stroke="#111" stroke-width="1.05" stroke-dasharray="16.4,5.1,1.2,3.9,1.2,5.4" stroke-dashoffset="26.0"/>
<path d="M417.3,503 C417.17,505.25 416.55,511.57 416.5,516.5 C416.45,521.43 416.52,527.08 417,532.6 C417.48,538.12 418.53,544.1 419.4,549.6 C420.27,555.1 421.28,560.17 422.2,565.6 C423.12,571.03 424.07,576.75 424.9,582.2 C425.73,587.65 426.7,592.7 427.2,598.3 C427.7,603.9 427.85,610.28 427.9,615.8 C427.95,621.32 427.73,625.83 427.5,631.4 C427.27,636.97 426.95,643.63 426.5,649.2 C426.05,654.77 425.47,659.37 424.8,664.8 C424.13,670.23 423.3,676.28 422.5,681.8 C421.7,687.32 420.52,693.28 420,697.9 C419.48,702.52 419.5,707.57 419.4,709.5" fill="none" stroke="#111" stroke-width="1.05" stroke-dasharray="16.4,5.1,1.2,3.9,1.2,5.4" stroke-dashoffset="19.6"/>
<line x1="259.9" y1="636.2" x2="259.9" y2="714" stroke="#111" stroke-width="1.7" />
<line x1="360.3" y1="636.2" x2="360.3" y2="714" stroke="#111" stroke-width="1.7" />
<line x1="461" y1="636.2" x2="461" y2="714" stroke="#111" stroke-width="1.7" />
<rect x="220.4" y="715.1" width="279.9" height="69.8" rx="0" fill="#fff" stroke="#111" stroke-width="1.4" />
<polygon points="230.2,712.2 250.8,712.2 252.8,715 251.3,715 250.4,714.3 230.2,714.3" fill="#111" stroke="none" stroke-width="1" />
<polygon points="468.2,715 470,712.3 490.2,712.3 490.2,714.3 470.4,714.3 469.6,715" fill="#111" stroke="none" stroke-width="1" />
<rect x="345.7" y="712.4" width="29.2" height="2.8" rx="0" fill="#222" stroke="none" stroke-width="1" />
<path d="M257.5,715 L257.5,713.6 Q259.7,712.6 261.9,713.6 L261.9,715" fill="none" stroke="#111" stroke-width="0.9" />
<path d="M458.4,715 L458.4,713.6 Q460.6,712.6 462.8,713.6 L462.8,715" fill="none" stroke="#111" stroke-width="0.9" />
<line x1="220.3" y1="714.6" x2="220.3" y2="786.2" stroke="#111" stroke-width="1.9" />
<line x1="500.3" y1="714.6" x2="500.3" y2="786.2" stroke="#111" stroke-width="1.9" />
<line x1="218.5" y1="768" x2="218.5" y2="782" stroke="#111" stroke-width="1.6" />
<path d="M273.8,785 L274.3,787.6 L276.5,787.6 L277,785 Z" fill="#111" stroke="#111" stroke-width="0.5" />
<path d="M290.8,785 L291.3,787.6 L293.5,787.6 L294,785 Z" fill="#111" stroke="#111" stroke-width="0.5" />
<path d="M426.8,785 L427.3,787.6 L429.5,787.6 L430,785 Z" fill="#111" stroke="#111" stroke-width="0.5" />
<path d="M443.8,785 L444.3,787.6 L446.5,787.6 L447,785 Z" fill="#111" stroke="#111" stroke-width="0.5" />
<path d="M305.4,785 L305.9,787.6 L308.1,787.6 L308.6,785 Z" fill="#111" stroke="#111" stroke-width="0.5" />
<path d="M314.3,785 L314.8,787.6 L317,787.6 L317.5,785 Z" fill="#111" stroke="#111" stroke-width="0.5" />
<path d="M323.2,785 L323.7,787.6 L325.9,787.6 L326.4,785 Z" fill="#111" stroke="#111" stroke-width="0.5" />
<path d="M332.1,785 L332.6,787.6 L334.8,787.6 L335.3,785 Z" fill="#111" stroke="#111" stroke-width="0.5" />
<path d="M341,785 L341.5,787.6 L343.7,787.6 L344.2,785 Z" fill="#111" stroke="#111" stroke-width="0.5" />
<path d="M349.9,785 L350.4,787.6 L352.6,787.6 L353.1,785 Z" fill="#111" stroke="#111" stroke-width="0.5" />
<path d="M358.8,785 L359.3,787.6 L361.5,787.6 L362,785 Z" fill="#111" stroke="#111" stroke-width="0.5" />
<path d="M367.7,785 L368.2,787.6 L370.4,787.6 L370.9,785 Z" fill="#111" stroke="#111" stroke-width="0.5" />
<path d="M376.6,785 L377.1,787.6 L379.3,787.6 L379.8,785 Z" fill="#111" stroke="#111" stroke-width="0.5" />
<path d="M385.5,785 L386,787.6 L388.2,787.6 L388.7,785 Z" fill="#111" stroke="#111" stroke-width="0.5" />
<path d="M394.4,785 L394.9,787.6 L397.1,787.6 L397.6,785 Z" fill="#111" stroke="#111" stroke-width="0.5" />
<path d="M403.3,785 L403.8,787.6 L406,787.6 L406.5,785 Z" fill="#111" stroke="#111" stroke-width="0.5" />
<path d="M412.2,785 L412.7,787.6 L414.9,787.6 L415.4,785 Z" fill="#111" stroke="#111" stroke-width="0.5" />
<rect x="145.2" y="782.4" width="75.2" height="3.9" rx="0" fill="url(#hatch2)" stroke="#111" stroke-width="1" />
<rect x="500.3" y="782.4" width="74.8" height="3.9" rx="0" fill="url(#hatch2)" stroke="#111" stroke-width="1" />
<polygon points="206.6,781.6 218.8,763.6 218.8,781.6" fill="#fff" stroke="#111" stroke-width="1" />
<rect x="216.4" y="763.6" width="2.4" height="4.8" rx="0" fill="#fff" stroke="#111" stroke-width="0.8" />
<polygon points="500.6,763.2 513.8,781.2 500.6,781.2" fill="#fff" stroke="#111" stroke-width="1" />
<rect x="500.6" y="763.2" width="2.4" height="18" rx="0" fill="#999" stroke="none" stroke-width="1" />
<line x1="545.2" y1="782" x2="590.7" y2="724.5" stroke="#111" stroke-width="1.15" />
<line x1="590.7" y1="724.5" x2="624.8" y2="724.5" stroke="#111" stroke-width="1.1" />
<polygon points="544.61,781.53 549.84,772.92 552.97,775.4 545.79,782.47" fill="#111" stroke="none" stroke-width="1" />
<text x="625" y="729.7" font-size="14" font-weight="bold" text-anchor="start" textLength="50.3" lengthAdjust="spacing" >FALSE</text>
<text x="625" y="743.8" font-size="14" font-weight="bold" text-anchor="start" textLength="59.3" lengthAdjust="spacing" >CEILING</text>
<line x1="219.9" y1="787.2" x2="219.9" y2="825.6" stroke="#111" stroke-width="1" />
<line x1="499.8" y1="788" x2="499.8" y2="825.6" stroke="#111" stroke-width="1" />
<line x1="219.9" y1="821.6" x2="499.8" y2="821.6" stroke="#111" stroke-width="1" />
<polygon points="219.9,820.85 230.1,819.7 230.1,823.5 219.9,822.35" fill="#111" stroke="none" stroke-width="1" />
<polygon points="499.8,822.35 489.6,823.5 489.6,819.7 499.8,820.85" fill="#111" stroke="none" stroke-width="1" />
<rect x="338.8" y="809.6" width="9.4" height="9.4" rx="0" fill="none" stroke="#111" stroke-width="1.1" />
<text x="350.4" y="819.3" font-size="14" font-weight="bold" text-anchor="start" textLength="30.2" lengthAdjust="spacingAndGlyphs" >595</text>
<text x="278.2" y="836" font-size="12.6" font-weight="bold" text-anchor="start" textLength="40" lengthAdjust="spacingAndGlyphs" >False</text>
<text x="329.2" y="836" font-size="12.6" font-weight="bold" text-anchor="start" textLength="44.2" lengthAdjust="spacingAndGlyphs" >ceiling</text>
<text x="384.2" y="836" font-size="12.6" font-weight="bold" text-anchor="start" textLength="55.8" lengthAdjust="spacingAndGlyphs" >opening</text>
</svg>
</body></html>
